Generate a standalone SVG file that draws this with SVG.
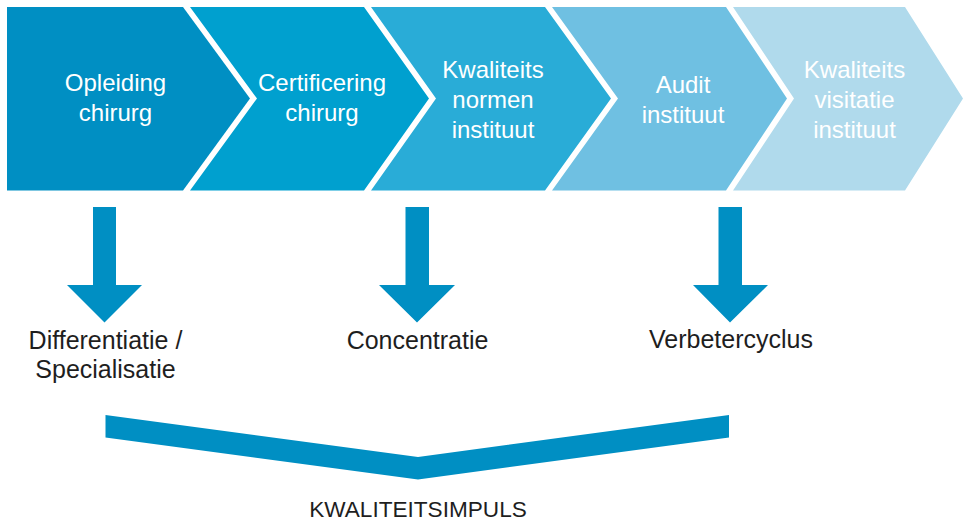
<svg xmlns="http://www.w3.org/2000/svg" width="963" height="522" viewBox="0 0 963 522">
  <style>
    .lbl { font-family: "Liberation Sans", Arial, sans-serif; font-size: 24px; fill: #ffffff; text-anchor: middle; }
    .out { font-family: "Liberation Sans", Arial, sans-serif; font-size: 25px; fill: #1e1e1e; text-anchor: middle; }
    .arrow { fill: #008fc3; }
  </style>
  <rect width="963" height="522" fill="#ffffff"/>
  <g id="step1">
    <polygon points="7,7 183,7 250,98.5 183,190.5 7,190.5" fill="#008fc3"/>
    <text class="lbl" x="115.5" y="91">Opleiding</text>
    <text class="lbl" x="115.5" y="121">chirurg</text>
  </g>
  <g id="step2">
    <polygon points="190,7 364,7 429,98.5 364,190.5 190,190.5 257,98.5" fill="#00a0cf"/>
    <text class="lbl" x="322" y="91">Certificering</text>
    <text class="lbl" x="322" y="121">chirurg</text>
  </g>
  <g id="step3">
    <polygon points="371,7 545,7 611,98.5 545,190.5 371,190.5 436,98.5" fill="#29acd7"/>
    <text class="lbl" x="493" y="78">Kwaliteits</text>
    <text class="lbl" x="493" y="108">normen</text>
    <text class="lbl" x="493" y="138">instituut</text>
  </g>
  <g id="step4">
    <polygon points="552,7 726,7 787,98.5 726,190.5 552,190.5 618,98.5" fill="#6fc0e2"/>
    <text class="lbl" x="683" y="93">Audit</text>
    <text class="lbl" x="683" y="123">instituut</text>
  </g>
  <g id="step5">
    <polygon points="733,7 905,7 963,98.5 905,190.5 733,190.5 794,98.5" fill="#b0daec"/>
    <text class="lbl" x="854.5" y="78">Kwaliteits</text>
    <text class="lbl" x="854.5" y="108">visitatie</text>
    <text class="lbl" x="854.5" y="138">instituut</text>
  </g>
  <g id="connectors">
    <polygon class="arrow" points="93,207 116,207 116,285 142,285 104.5,322.5 67,285 93,285"/>
    <polygon class="arrow" points="405.5,207 429,207 429,285 455,285 417,322.5 379,285 405.5,285"/>
    <polygon class="arrow" points="718.5,207 742,207 742,285 768,285 730,322.5 693,285 718.5,285"/>
    <polygon class="arrow" points="105.5,415 418,457 729,415 729,437.5 418,479.5 105.5,437.5"/>
  </g>
  <g id="out1">
    <text class="out" x="105.5" y="349">Differentiatie /</text>
    <text class="out" x="105.5" y="378">Specialisatie</text>
  </g>
  <g id="out2">
    <text class="out" x="417.5" y="349">Concentratie</text>
  </g>
  <g id="out3">
    <text class="out" x="731" y="348">Verbetercyclus</text>
  </g>
  <g id="result">
    <text class="out" x="418" y="517" style="font-size:22.6px">KWALITEITSIMPULS</text>
  </g>
</svg>
